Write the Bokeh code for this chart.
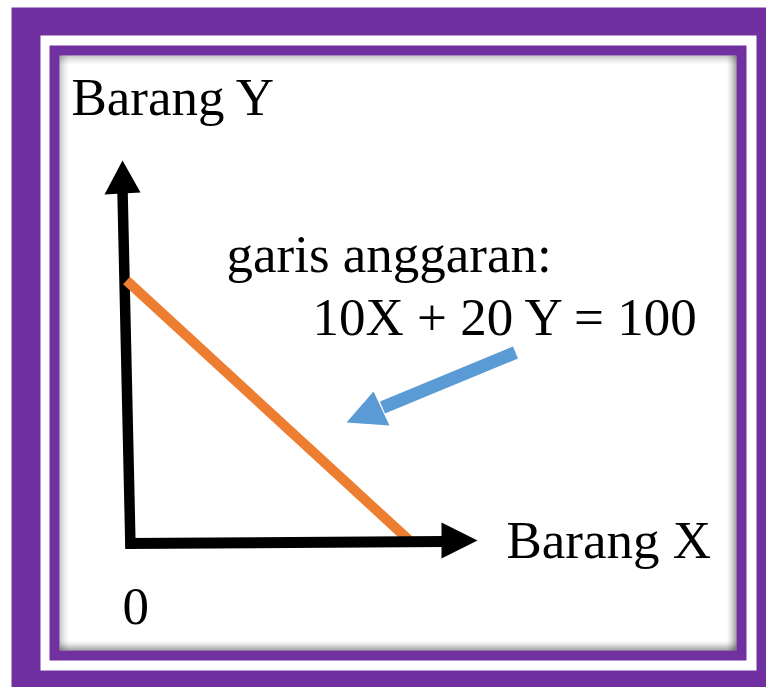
from bokeh.plotting import figure
from bokeh.models import Range1d
from bokeh.core.properties import value
from bokeh.embed import file_html
from bokeh.resources import INLINE

# ---- chart data -------------------------------------------------------
budget_x = [0, 10]          # quantity of Barang X (intercept 100/10)
budget_y = [5, 0]           # quantity of Barang Y (intercept 100/20)
axis_labels = ["Barang X", "Barang Y"]
origin_label = "0"
note_lines = ["garis anggaran:", "10X + 20 Y = 100"]

# ---- layout -----------------------------------------------------------
W, H = 766, 687
x0_px, x_scale = 126.0, 28.4      # px where X=0, px per unit
y0_px, y_scale = 541.0, 52.2      # px (from top) where Y=0

p = figure(width=W, height=H, output_backend="svg", toolbar_location=None,
           x_range=Range1d(-x0_px / x_scale, (W - x0_px) / x_scale),
           y_range=Range1d((y0_px - H) / y_scale, y0_px / y_scale),
           x_axis_type=None, y_axis_type=None, min_border=0)
p.grid.visible = False
p.outline_line_color = None
p.background_fill_color = "white"
p.border_fill_color = "white"
p.extra_x_ranges = {"px": Range1d(0, W)}
p.extra_y_ranges = {"px": Range1d(H, 0)}
R = dict(x_range_name="px", y_range_name="px")

PURPLE = "#7030A0"
# frame
p.quad(left=[11], right=[800], top=[7], bottom=[720], fill_color=PURPLE, line_color=None, **R)
p.quad(left=[40], right=[756], top=[35], bottom=[670], fill_color="white", line_color=None, **R)
p.quad(left=[49], right=[746], top=[45], bottom=[660], fill_color=PURPLE, line_color=None, **R)
p.quad(left=[59], right=[736], top=[55], bottom=[650], fill_color="white", line_color=None, **R)

# inner shadow
L, Rr, T, B = 59, 736, 55, 650
xs, ys, al = [], [], []
for i in range(10):
    a = 0.30 * (1 - i / 10) ** 1.6
    o = i + 0.5
    xs += [[L, Rr], [L + o, L + o]]
    ys += [[T + o, T + o], [T, B]]
    al += [a * 0.75, a * 0.75]
    xs += [[L, Rr], [Rr - o, Rr - o]]
    ys += [[B - o, B - o], [T, B]]
    al += [a * 1.3, a * 1.3]
p.multi_line(xs=xs, ys=ys, line_color="black", line_alpha=al, line_width=1, **R)

# y-axis arrow
p.line(x=[130, 122], y=[548, 190], line_color="black", line_width=10.5, **R)
p.patch(x=[122, 104, 140], y=[160, 194, 192], fill_color="black", line_color=None, **R)

# budget line (data)
p.line(x=budget_x, y=budget_y, line_color="#ED7D31", line_width=10)

# x-axis arrow
p.line(x=[125, 443], y=[543, 541], line_color="black", line_width=11, **R)
p.patch(x=[477, 441, 441], y=[540, 522, 558], fill_color="black", line_color=None, **R)

# blue pointer arrow
p.line(x=[515, 382], y=[352, 407], line_color="#5B9BD5", line_width=13, **R)
p.patch(x=[346, 373, 389], y=[422, 391, 425], fill_color="#5B9BD5", line_color=None, **R)

# texts
dy = 19
txt = dict(text_font=value("Liberation Serif"), text_font_size="53px",
           text_baseline="alphabetic", text_align="left", text_color="black")
p.text(x=[71, 506, 226, 312, 122],
       y=[115 - dy, 558 - dy, 272 - dy, 335 - dy, 625 - dy],
       text=[axis_labels[1], axis_labels[0], note_lines[0], note_lines[1], origin_label],
       **txt, **R)

open("out.html", "w").write(file_html(p, INLINE))
